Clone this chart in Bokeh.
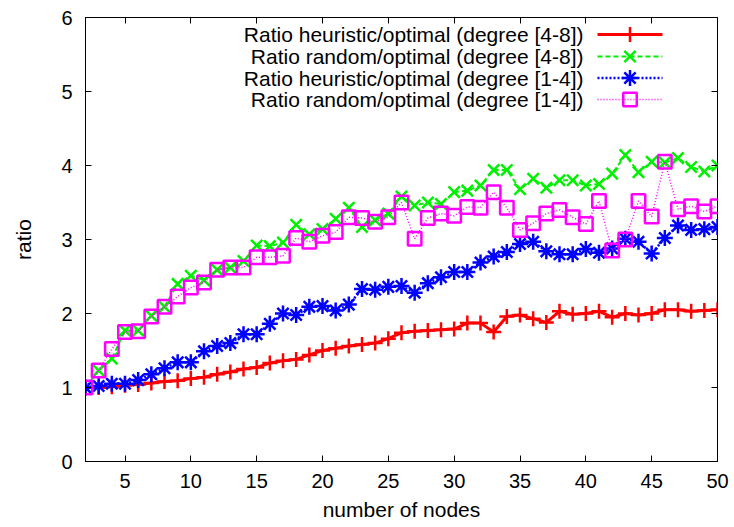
from bokeh.plotting import figure
from bokeh.models import Range1d, LinearAxis, FixedTicker, Label, CustomLabelingPolicy
from bokeh.embed import file_html
from bokeh.resources import INLINE

# ---------------- data ----------------
nodes = list(range(2, 51))

heur_4_8 = [1.00, 1.00, 1.01, 1.03, 1.04, 1.06, 1.08, 1.09, 1.12, 1.14,
            1.18, 1.21, 1.25, 1.27, 1.33, 1.36, 1.38, 1.44, 1.50, 1.53,
            1.56, 1.58, 1.60, 1.66, 1.74, 1.76, 1.77, 1.78, 1.79, 1.87,
            1.87, 1.75, 1.96, 1.98, 1.93, 1.88, 2.03, 1.99, 2.00, 2.03,
            1.95, 2.00, 1.98, 2.00, 2.05, 2.05, 2.03, 2.04, 2.05]

rand_4_8 = [1.00, 1.23, 1.39, 1.77, 1.77, 1.97, 2.09, 2.40, 2.51, 2.45,
            2.59, 2.62, 2.71, 2.92, 2.91, 2.96, 3.20, 3.07, 3.14, 3.28,
            3.43, 3.17, 3.26, 3.35, 3.58, 3.46, 3.50, 3.48, 3.64, 3.66,
            3.73, 3.94, 3.94, 3.68, 3.82, 3.70, 3.80, 3.80, 3.73, 3.75,
            3.89, 4.14, 3.91, 4.05, 4.04, 4.10, 3.98, 3.92, 4.00]

heur_1_4 = [1.00, 1.02, 1.05, 1.05, 1.10, 1.18, 1.26, 1.34, 1.34, 1.49,
            1.56, 1.60, 1.72, 1.72, 1.86, 2.00, 1.98, 2.09, 2.10, 2.04,
            2.12, 2.33, 2.32, 2.36, 2.37, 2.28, 2.41, 2.49, 2.56, 2.56,
            2.69, 2.77, 2.83, 2.94, 2.97, 2.84, 2.80, 2.80, 2.87, 2.82,
            2.88, 3.01, 2.97, 2.81, 3.02, 3.19, 3.13, 3.14, 3.17]

rand_1_4 = [1.00, 1.23, 1.52, 1.75, 1.76, 1.96, 2.09, 2.23, 2.35, 2.42,
            2.59, 2.62, 2.62, 2.76, 2.76, 2.78, 3.02, 2.97, 3.05, 3.10,
            3.30, 3.29, 3.24, 3.30, 3.50, 3.01, 3.29, 3.35, 3.32, 3.44,
            3.43, 3.64, 3.43, 3.13, 3.22, 3.35, 3.40, 3.30, 3.21, 3.52,
            2.85, 3.00, 3.52, 3.31, 4.05, 3.41, 3.45, 3.38, 3.45]

labels = ["Ratio heuristic/optimal (degree [4-8])",
          "Ratio random/optimal (degree [4-8])",
          "Ratio heuristic/optimal (degree [1-4])",
          "Ratio random/optimal (degree [1-4])"]

x_ticks = [5, 10, 15, 20, 25, 30, 35, 40, 45, 50]
y_ticks = [0, 1, 2, 3, 4, 5, 6]

# ---------------- styles ----------------
FONT = "Liberation Sans"
FS_TICK = "20px"
FS_TEXT = "21px"
X0, X1 = 2, 50
Y0, Y1 = 0, 6
FW, FH = 632, 444

series = [
    (heur_4_8, "#ff0000", "solid", 3.0, "cross", 15, 2.5),
    (rand_4_8, "#00f000", "5 3", 2.0, "x", 16, 2.5),
    (heur_1_4, "#0000ff", "2 2", 2.5, "asterisk", 16, 2.5),
    (rand_1_4, "#ff00ff", "1 2", 1.5, "square", 13.5, 2.5),
]

p = figure(width=734, height=527,
           x_range=Range1d(X0, X1), y_range=Range1d(Y0, Y1),
           output_backend="svg", toolbar_location=None,
           min_border_left=85, min_border_right=17,
           min_border_top=17, min_border_bottom=66)

p.grid.visible = False
p.outline_line_color = "black"
p.outline_line_width = 1
p.outline_line_alpha = 1.0
p.background_fill_color = "white"
p.border_fill_color = "white"

xa = p.below[0]
ya = p.left[0]
xa.ticker = FixedTicker(ticks=x_ticks)
ya.ticker = FixedTicker(ticks=y_ticks)
for ax in (xa, ya):
    ax.major_tick_in = 6
    ax.major_tick_out = 0
    ax.minor_tick_in = 0
    ax.minor_tick_out = 0
    ax.axis_line_color = "black"
    ax.major_label_text_font = FONT
    ax.major_label_text_font_size = FS_TICK
    ax.major_label_text_color = "black"
    ax.axis_label_text_font = FONT
    ax.axis_label_text_font_size = FS_TEXT
    ax.axis_label_text_font_style = "normal"
    ax.axis_label_text_color = "black"
xa.axis_label = "number of nodes"
ya.axis_label = "ratio"
xa.major_label_standoff = 12
xa.axis_label_standoff = 7
ya.major_label_standoff = 13
ya.axis_label_standoff = 23

# mirrored tick marks on top and right (no labels drawn)
no_labels = CustomLabelingPolicy(code="return new Set()")
for side, ticks in (("above", x_ticks), ("right", y_ticks)):
    m = LinearAxis(ticker=FixedTicker(ticks=ticks),
                   major_label_policy=no_labels,
                   major_label_text_font_size="1px",
                   major_label_standoff=0,
                   major_tick_in=6, major_tick_out=0,
                   minor_tick_in=0, minor_tick_out=0,
                   axis_line_color=None)
    p.add_layout(m, side)

# data
for ys, col, dash, lw, mk, ms, mlw in series:
    p.line(nodes, ys, line_color=col, line_width=lw, line_dash=dash)
    p.scatter(nodes, ys, marker=mk, size=ms, line_color=col,
              fill_color=None, line_width=mlw)

# legend (text left, sample right, as in gnuplot)
def px_to_x(px):
    return X0 + px / FW * (X1 - X0)

def py_to_y(py):
    return Y1 - py / FH * (Y1 - Y0)

text_right = px_to_x(498)
samp_a, samp_b = px_to_x(512), px_to_x(577)
samp_m = (samp_a + samp_b) / 2
row_px = [17, 39, 60.5, 82]

for (ys, col, dash, lw, mk, ms, mlw), lab, rp in zip(series, labels, row_px):
    yy = py_to_y(rp)
    p.add_layout(Label(x=text_right, y=yy, text=lab, text_align="right",
                       text_baseline="middle", text_font=FONT,
                       text_font_size=FS_TEXT, text_color="black"))
    p.line([samp_a, samp_b], [yy, yy], line_color=col, line_width=lw,
           line_dash=dash)
    p.scatter([samp_m], [yy], marker=mk, size=ms, line_color=col,
              fill_color=None, line_width=mlw)

open("out.html", "w").write(file_html(p, INLINE))
